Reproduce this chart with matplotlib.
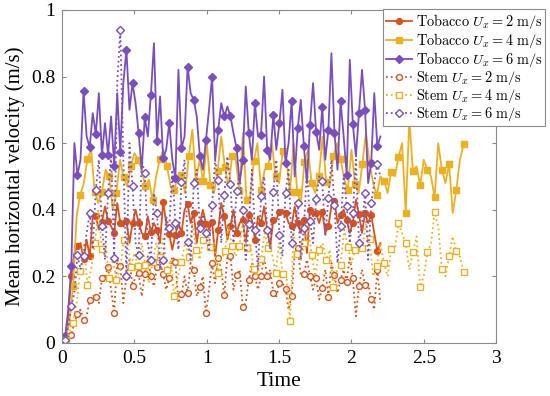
import numpy as np
import matplotlib
matplotlib.use("Agg")
import matplotlib.pyplot as plt
from matplotlib.ticker import FuncFormatter

plt.rcParams["font.family"] = ["Liberation Serif", "DejaVu Serif"]
plt.rcParams["mathtext.fontset"] = "cm"

# ── Data ──────────────────────────────────────────────────────────────
# runs for 2 and 6 m/s stop at t = 2.2, runs for 4 m/s stop at t = 2.8
t_short = np.linspace(0, 2.2, 105)
t_long = np.linspace(0, 2.8, 113)

tobacco_2 = [
    0.0, 0.01, 0.08, 0.2, 0.27, 0.291, 0.30, 0.252, 0.31, 0.26,
    0.38, 0.381, 0.34, 0.364, 0.41, 0.367, 0.35, 0.33, 0.42, 0.361,
    0.35, 0.367, 0.30, 0.36, 0.40, 0.361, 0.33, 0.321, 0.38, 0.334,
    0.36, 0.34, 0.30, 0.424, 0.36, 0.327, 0.28, 0.324, 0.36, 0.33,
    0.40, 0.417, 0.36, 0.39, 0.30, 0.36, 0.40, 0.357, 0.34, 0.364,
    0.26, 0.34, 0.42, 0.38, 0.31, 0.35, 0.40, 0.33, 0.36, 0.37,
    0.30, 0.385, 0.37, 0.31, 0.38, 0.36, 0.41, 0.34, 0.29, 0.37,
    0.37, 0.394, 0.40, 0.39, 0.36, 0.35, 0.41, 0.36, 0.33, 0.37,
    0.27, 0.40, 0.38, 0.39, 0.36, 0.394, 0.33, 0.35, 0.41, 0.426,
    0.36, 0.384, 0.40, 0.37, 0.33, 0.361, 0.43, 0.386, 0.33, 0.39,
    0.36, 0.385, 0.33, 0.276, 0.30,
]

tobacco_4 = [
    0.0, 0.02, 0.06, 0.17, 0.38, 0.445, 0.48, 0.552, 0.58, 0.454,
    0.42, 0.454, 0.52, 0.50, 0.40, 0.45, 0.55, 0.497, 0.47, 0.53,
    0.57, 0.55, 0.52, 0.47, 0.49, 0.43, 0.50, 0.552, 0.58, 0.53,
    0.47, 0.46, 0.50, 0.505, 0.45, 0.56, 0.64, 0.485, 0.55, 0.485,
    0.60, 0.474, 0.45, 0.516, 0.62, 0.527, 0.47, 0.56, 0.55, 0.457,
    0.63, 0.43, 0.44, 0.545, 0.60, 0.46, 0.52, 0.532, 0.60, 0.50,
    0.48, 0.577, 0.55, 0.452, 0.60, 0.454, 0.42, 0.543, 0.58, 0.48,
    0.45, 0.50, 0.62, 0.484, 0.47, 0.56, 0.60, 0.552, 0.49, 0.46,
    0.58, 0.476, 0.45, 0.537, 0.63, 0.54, 0.48, 0.444, 0.50, 0.487,
    0.45, 0.514, 0.50, 0.557, 0.60, 0.39, 0.67, 0.517, 0.53, 0.474,
    0.55, 0.52, 0.50, 0.437, 0.60, 0.52, 0.48, 0.537, 0.39, 0.46,
    0.55, 0.596, 0.60,
]

tobacco_6 = [
    0.0, 0.02, 0.1, 0.23, 0.6, 0.505, 0.55, 0.757, 0.62, 0.587,
    0.69, 0.627, 0.75, 0.565, 0.66, 0.565, 0.68, 0.532, 0.75, 0.573,
    0.78, 0.88, 0.70, 0.78, 0.72, 0.63, 0.52, 0.677, 0.62, 0.745,
    0.90, 0.607, 0.74, 0.555, 0.58, 0.66, 0.55, 0.495, 0.82, 0.585,
    0.62, 0.83, 0.75, 0.73, 0.68, 0.56, 0.52, 0.61, 0.70, 0.80,
    0.55, 0.64, 0.72, 0.68, 0.71, 0.68, 0.63, 0.585, 0.48, 0.55,
    0.77, 0.63, 0.55, 0.72, 0.62, 0.625, 0.80, 0.58, 0.55, 0.685,
    0.58, 0.66, 0.76, 0.54, 0.60, 0.727, 0.50, 0.645, 0.73, 0.59,
    0.48, 0.655, 0.78, 0.634, 0.58, 0.707, 0.55, 0.64, 0.87, 0.63,
    0.52, 0.725, 0.62, 0.505, 0.85, 0.657, 0.56, 0.69, 0.82, 0.70,
    0.48, 0.54, 0.75, 0.59, 0.62,
]

stem_2 = [
    0.0, 0.005, 0.01, 0.025, 0.06, 0.087, 0.10, 0.069, 0.08, 0.129,
    0.14, 0.139, 0.12, 0.194, 0.20, 0.227, 0.16, 0.089, 0.25, 0.231,
    0.12, 0.20, 0.25, 0.171, 0.20, 0.21, 0.14, 0.207, 0.26, 0.20,
    0.17, 0.229, 0.24, 0.206, 0.16, 0.194, 0.26, 0.244, 0.12, 0.146,
    0.20, 0.149, 0.24, 0.219, 0.14, 0.167, 0.20, 0.089, 0.16, 0.239,
    0.18, 0.256, 0.22, 0.144, 0.26, 0.262, 0.16, 0.204, 0.22, 0.109,
    0.12, 0.19, 0.24, 0.201, 0.16, 0.20, 0.26, 0.201, 0.22, 0.151,
    0.14, 0.181, 0.18, 0.161, 0.10, 0.141, 0.27, 0.286, 0.20, 0.206,
    0.25, 0.201, 0.16, 0.194, 0.13, 0.164, 0.22, 0.139, 0.24, 0.204,
    0.15, 0.189, 0.22, 0.184, 0.26, 0.194, 0.08, 0.17, 0.22, 0.174,
    0.18, 0.131, 0.10, 0.22, 0.12,
]

stem_4 = [
    0.0, 0.01, 0.03, 0.059, 0.12, 0.217, 0.30, 0.174, 0.22, 0.299,
    0.40, 0.281, 0.30, 0.194, 0.25, 0.19, 0.22, 0.309, 0.31, 0.229,
    0.27, 0.231, 0.30, 0.234, 0.18, 0.244, 0.30, 0.259, 0.32, 0.22,
    0.25, 0.141, 0.20, 0.244, 0.30, 0.259, 0.36, 0.28, 0.25, 0.309,
    0.35, 0.289, 0.30, 0.211, 0.25, 0.276, 0.35, 0.291, 0.26, 0.291,
    0.36, 0.284, 0.30, 0.221, 0.20, 0.251, 0.33, 0.284, 0.27, 0.211,
    0.30, 0.207, 0.20, 0.066, 0.33, 0.267, 0.25, 0.30, 0.35, 0.264,
    0.20, 0.28, 0.30, 0.249, 0.28, 0.167, 0.22, 0.234, 0.34, 0.289,
    0.24, 0.279, 0.30, 0.284, 0.36, 0.311, 0.20, 0.232, 0.30, 0.239,
    0.20, 0.281, 0.28, 0.359, 0.33, 0.30, 0.22, 0.272, 0.32, 0.169,
    0.20, 0.272, 0.30, 0.392, 0.35, 0.221, 0.20, 0.262, 0.32, 0.276,
    0.26, 0.212, 0.212,
]

stem_6 = [
    0.0, 0.01, 0.05, 0.11, 0.15, 0.264, 0.22, 0.26, 0.33, 0.39,
    0.28, 0.46, 0.55, 0.351, 0.25, 0.451, 0.56, 0.256, 0.78, 0.94,
    0.55, 0.20, 0.60, 0.47, 0.30, 0.264, 0.55, 0.51, 0.30, 0.25,
    0.45, 0.39, 0.22, 0.25, 0.38, 0.344, 0.52, 0.361, 0.28, 0.484,
    0.55, 0.304, 0.25, 0.481, 0.52, 0.344, 0.38, 0.331, 0.28, 0.414,
    0.55, 0.49, 0.30, 0.444, 0.56, 0.476, 0.30, 0.457, 0.50, 0.40,
    0.25, 0.357, 0.52, 0.34, 0.22, 0.44, 0.50, 0.34, 0.28, 0.454,
    0.55, 0.324, 0.26, 0.45, 0.52, 0.30, 0.35, 0.421, 0.25, 0.346,
    0.52, 0.367, 0.30, 0.431, 0.50, 0.486, 0.32, 0.434, 0.55, 0.414,
    0.24, 0.35, 0.50, 0.412, 0.30, 0.39, 0.55, 0.30, 0.35, 0.451,
    0.25, 0.421, 0.48, 0.537, 0.50,
]

speeds = [2, 4, 6]
colors = ["#D95319", "#EDB120", "#7A4EBF"]

# ── Figure ────────────────────────────────────────────────────────────
fig = plt.figure(figsize=(5.5, 3.96), dpi=100)
ax = fig.add_axes([0.113, 0.134, 0.789, 0.841])

series = [
    (t_short, tobacco_2, "-", "o", True, 0),
    (t_long, tobacco_4, "-", "s", True, 1),
    (t_short, tobacco_6, "-", "D", True, 2),
    (t_short, stem_2, ":", "o", False, 0),
    (t_long, stem_4, ":", "s", False, 1),
    (t_short, stem_6, ":", "D", False, 2),
]
for t, v, ls, mk, filled, ci in series:
    name = "Tobacco" if filled else "Stem"
    label = r"$\mathrm{%s}\ U_x = %d\ \mathrm{m/s}$" % (name, speeds[ci])
    ms = {"o": 4.2, "s": 3.8, "D": 3.6}[mk]
    ax.plot(t, v, linestyle=ls, color=colors[ci], lw=1.3,
            marker=mk, markevery=(1, 2), markersize=ms,
            markerfacecolor=colors[ci] if filled else "white",
            markeredgecolor=colors[ci], markeredgewidth=1.0,
            label=label)

ax.set_xlim(0, 3)
ax.set_ylim(0, 1)
ax.set_xticks(np.arange(0, 3.01, 0.5))
ax.set_yticks(np.arange(0, 1.01, 0.2))
fmt = FuncFormatter(lambda x, pos: "%g" % round(x, 2))
ax.xaxis.set_major_formatter(fmt)
ax.yaxis.set_major_formatter(fmt)
ax.tick_params(direction="in", top=True, right=True, length=3,
               color="#8a8a8a", labelsize=14, pad=5)
for s in ax.spines.values():
    s.set_color("#8a8a8a")
    s.set_linewidth(0.8)

ax.set_xlabel("Time", fontsize=15.5, labelpad=4)
ax.set_ylabel("Mean horizontal velocity (m/s)", fontsize=15, labelpad=4)

leg = ax.legend(loc="upper left", bbox_to_anchor=(383 / 550, 1 - 9 / 396),
                bbox_transform=fig.transFigure, borderaxespad=0,
                fontsize=10.3, handlelength=1.85, handletextpad=0.25,
                borderpad=0.2, labelspacing=0.0, fancybox=False,
                framealpha=1, edgecolor="#8a8a8a")
leg.get_frame().set_linewidth(0.8)

fig.savefig("out.png", dpi=100)
